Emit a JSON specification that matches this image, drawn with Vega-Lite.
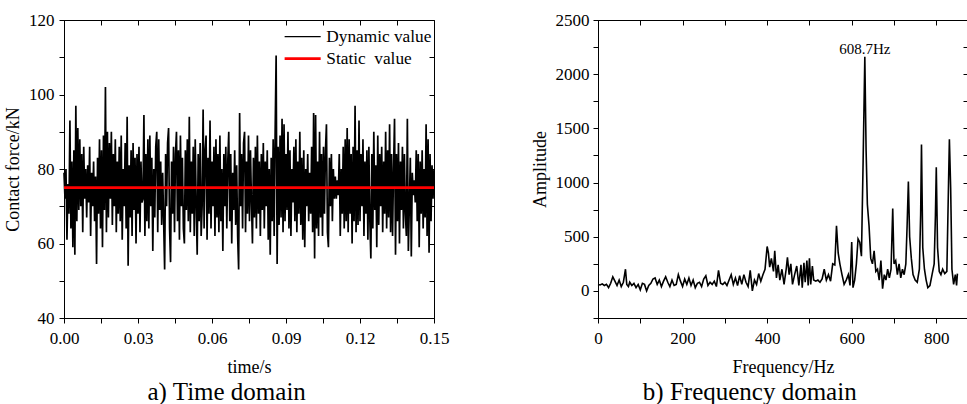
{
"$schema": "https://vega.github.io/schema/vega-lite/v6.json",
"padding": {"left": 4, "top": 10, "right": 0, "bottom": 0},
"spacing": 80,
"config": {
  "font": "Liberation Serif",
  "view": {"stroke": "black", "strokeWidth": 1},
  "axis": {"grid": false, "domainColor": "black", "tickColor": "black", "labelColor": "black", "titleColor": "black", "labelFontSize": 17, "titleFontSize": 18, "titleFontWeight": "normal", "tickSize": 5, "labelFont": "Liberation Serif", "titleFont": "Liberation Serif", "labelFlush": false, "labelOverlap": false},
  "title": {"fontSize": 25, "fontWeight": "normal", "color": "black", "font": "Liberation Serif", "frame": "bounds"}
},
"datasets": {
"time": [
{"time":0,"force":79},{"time":0.0004,"force":72},{"time":0.0008,"force":80},{"time":0.0012,"force":61},{"time":0.0016,"force":76},{"time":0.002,"force":68},{"time":0.0024,"force":93},{"time":0.0028,"force":64},{"time":0.0032,"force":82},{"time":0.0036,"force":59},{"time":0.004,"force":85},{"time":0.0044,"force":57},{"time":0.0048,"force":97},{"time":0.0052,"force":66},{"time":0.0056,"force":91},{"time":0.006,"force":69},{"time":0.0064,"force":88},{"time":0.0068,"force":70},{"time":0.0072,"force":84},{"time":0.0076,"force":63},{"time":0.008,"force":86},{"time":0.0084,"force":72},{"time":0.0088,"force":80},{"time":0.0092,"force":67},{"time":0.0096,"force":81},
{"time":0.01,"force":71},{"time":0.0104,"force":86},{"time":0.0108,"force":62},{"time":0.0112,"force":79},{"time":0.0116,"force":70},{"time":0.012,"force":82},{"time":0.0124,"force":66},{"time":0.0128,"force":78},{"time":0.0132,"force":54.5},{"time":0.0136,"force":83},{"time":0.014,"force":68},{"time":0.0144,"force":88},{"time":0.0148,"force":64},{"time":0.0152,"force":85},{"time":0.0156,"force":59},{"time":0.016,"force":89},{"time":0.0164,"force":69},{"time":0.0168,"force":102},{"time":0.0172,"force":63},{"time":0.0176,"force":90},{"time":0.018,"force":67},{"time":0.0184,"force":87},{"time":0.0188,"force":72},{"time":0.0192,"force":90},{"time":0.0196,"force":65},
{"time":0.02,"force":84},{"time":0.0204,"force":70},{"time":0.0208,"force":88},{"time":0.0212,"force":63},{"time":0.0216,"force":82},{"time":0.022,"force":68},{"time":0.0224,"force":86},{"time":0.0228,"force":66},{"time":0.0232,"force":89},{"time":0.0236,"force":61},{"time":0.024,"force":80},{"time":0.0244,"force":70},{"time":0.0248,"force":87},{"time":0.0252,"force":64},{"time":0.0256,"force":94},{"time":0.026,"force":54},{"time":0.0264,"force":81},{"time":0.0268,"force":67},{"time":0.0272,"force":85},{"time":0.0276,"force":62},{"time":0.028,"force":87},{"time":0.0284,"force":69},{"time":0.0288,"force":83},{"time":0.0292,"force":60},{"time":0.0296,"force":84},
{"time":0.03,"force":68},{"time":0.0304,"force":86},{"time":0.0308,"force":63},{"time":0.0312,"force":82},{"time":0.0316,"force":71},{"time":0.032,"force":72},{"time":0.0324,"force":94.5},{"time":0.0328,"force":62},{"time":0.0332,"force":84},{"time":0.0336,"force":66},{"time":0.034,"force":88},{"time":0.0344,"force":64},{"time":0.0348,"force":89},{"time":0.0352,"force":70},{"time":0.0356,"force":83},{"time":0.036,"force":58},{"time":0.0364,"force":80},{"time":0.0368,"force":67},{"time":0.0372,"force":86},{"time":0.0376,"force":90},{"time":0.038,"force":63},{"time":0.0384,"force":88},{"time":0.0388,"force":69},{"time":0.0392,"force":82},{"time":0.0396,"force":65},
{"time":0.04,"force":79},{"time":0.0404,"force":66},{"time":0.0408,"force":53},{"time":0.0412,"force":84},{"time":0.0416,"force":70},{"time":0.042,"force":87},{"time":0.0424,"force":91},{"time":0.0428,"force":64},{"time":0.0432,"force":55},{"time":0.0436,"force":82},{"time":0.044,"force":68},{"time":0.0444,"force":86},{"time":0.0448,"force":63},{"time":0.0452,"force":84},{"time":0.0456,"force":90},{"time":0.046,"force":66},{"time":0.0464,"force":85},{"time":0.0468,"force":61},{"time":0.0472,"force":89},{"time":0.0476,"force":70},{"time":0.048,"force":83},{"time":0.0484,"force":64},{"time":0.0488,"force":60},{"time":0.0492,"force":85},{"time":0.0496,"force":69},
{"time":0.05,"force":88},{"time":0.0504,"force":66},{"time":0.0508,"force":94},{"time":0.0512,"force":63},{"time":0.0516,"force":82},{"time":0.052,"force":68},{"time":0.0524,"force":86},{"time":0.0528,"force":62},{"time":0.0532,"force":88},{"time":0.0536,"force":70},{"time":0.054,"force":57},{"time":0.0544,"force":84},{"time":0.0548,"force":66},{"time":0.0552,"force":87},{"time":0.0556,"force":62},{"time":0.056,"force":70},{"time":0.0564,"force":96},{"time":0.0568,"force":64},{"time":0.0572,"force":85},{"time":0.0576,"force":89},{"time":0.058,"force":61},{"time":0.0584,"force":83},{"time":0.0588,"force":68},{"time":0.0592,"force":93},{"time":0.0596,"force":64},
{"time":0.06,"force":82},{"time":0.0604,"force":70},{"time":0.0608,"force":86},{"time":0.0612,"force":62},{"time":0.0616,"force":88},{"time":0.062,"force":67},{"time":0.0624,"force":84},{"time":0.0628,"force":63},{"time":0.0632,"force":89},{"time":0.0636,"force":66},{"time":0.064,"force":80},{"time":0.0644,"force":58},{"time":0.0648,"force":84},{"time":0.0652,"force":70},{"time":0.0656,"force":86},{"time":0.066,"force":64},{"time":0.0664,"force":82},{"time":0.0668,"force":90},{"time":0.0672,"force":66},{"time":0.0676,"force":84},{"time":0.068,"force":60},{"time":0.0684,"force":79},{"time":0.0688,"force":69},{"time":0.0692,"force":85},{"time":0.0696,"force":65},
{"time":0.07,"force":81},{"time":0.0704,"force":62},{"time":0.0708,"force":53},{"time":0.0712,"force":95},{"time":0.0716,"force":70},{"time":0.072,"force":84},{"time":0.0724,"force":64},{"time":0.0728,"force":87},{"time":0.0732,"force":90},{"time":0.0736,"force":63},{"time":0.074,"force":82},{"time":0.0744,"force":68},{"time":0.0748,"force":89},{"time":0.0752,"force":66},{"time":0.0756,"force":85},{"time":0.076,"force":71},{"time":0.0764,"force":60},{"time":0.0768,"force":83},{"time":0.0772,"force":67},{"time":0.0776,"force":86},{"time":0.078,"force":64},{"time":0.0784,"force":89},{"time":0.0788,"force":68},{"time":0.0792,"force":82},{"time":0.0796,"force":62},
{"time":0.08,"force":84},{"time":0.0804,"force":69},{"time":0.0808,"force":87},{"time":0.0812,"force":64},{"time":0.0816,"force":82},{"time":0.082,"force":70},{"time":0.0824,"force":85},{"time":0.0828,"force":61},{"time":0.0832,"force":80},{"time":0.0836,"force":57},{"time":0.084,"force":83},{"time":0.0844,"force":66},{"time":0.0848,"force":88},{"time":0.0852,"force":62},{"time":0.0856,"force":90},{"time":0.086,"force":110.5},{"time":0.0864,"force":54.5},{"time":0.0868,"force":86},{"time":0.0872,"force":65},{"time":0.0876,"force":89},{"time":0.088,"force":67},{"time":0.0884,"force":93.5},{"time":0.0888,"force":63},{"time":0.0892,"force":92},{"time":0.0896,"force":66},
{"time":0.09,"force":84},{"time":0.0904,"force":69},{"time":0.0908,"force":90},{"time":0.0912,"force":64},{"time":0.0916,"force":85},{"time":0.092,"force":62},{"time":0.0924,"force":80},{"time":0.0928,"force":71},{"time":0.0932,"force":86},{"time":0.0936,"force":66},{"time":0.094,"force":88},{"time":0.0944,"force":63},{"time":0.0948,"force":82},{"time":0.0952,"force":68},{"time":0.0956,"force":90},{"time":0.096,"force":65},{"time":0.0964,"force":83},{"time":0.0968,"force":61},{"time":0.0972,"force":85},{"time":0.0976,"force":59},{"time":0.098,"force":80},{"time":0.0984,"force":70},{"time":0.0988,"force":84},{"time":0.0992,"force":66},{"time":0.0996,"force":79},
{"time":0.1,"force":68},{"time":0.1004,"force":86},{"time":0.1008,"force":63},{"time":0.1012,"force":95},{"time":0.1016,"force":56},{"time":0.102,"force":94.5},{"time":0.1024,"force":64},{"time":0.1028,"force":82},{"time":0.1032,"force":62},{"time":0.1036,"force":90},{"time":0.104,"force":67},{"time":0.1044,"force":84},{"time":0.1048,"force":62},{"time":0.1052,"force":86},{"time":0.1056,"force":68},{"time":0.106,"force":85},{"time":0.1064,"force":92},{"time":0.1068,"force":63},{"time":0.1072,"force":59},{"time":0.1076,"force":83},{"time":0.108,"force":70},{"time":0.1084,"force":84},{"time":0.1088,"force":66},{"time":0.1092,"force":80},{"time":0.1096,"force":72},
{"time":0.11,"force":78},{"time":0.1104,"force":72},{"time":0.1108,"force":77},{"time":0.1112,"force":73},{"time":0.1116,"force":84},{"time":0.112,"force":62},{"time":0.1124,"force":80},{"time":0.1128,"force":68},{"time":0.1132,"force":86},{"time":0.1136,"force":64},{"time":0.114,"force":88},{"time":0.1144,"force":66},{"time":0.1148,"force":91},{"time":0.1152,"force":63},{"time":0.1156,"force":88},{"time":0.116,"force":68},{"time":0.1164,"force":84},{"time":0.1168,"force":60},{"time":0.1172,"force":86},{"time":0.1176,"force":66},{"time":0.118,"force":97},{"time":0.1184,"force":63},{"time":0.1188,"force":85},{"time":0.1192,"force":65},{"time":0.1196,"force":93},
{"time":0.12,"force":66},{"time":0.1204,"force":84},{"time":0.1208,"force":70},{"time":0.1212,"force":88},{"time":0.1216,"force":62},{"time":0.122,"force":82},{"time":0.1224,"force":68},{"time":0.1228,"force":85},{"time":0.1232,"force":61},{"time":0.1236,"force":86},{"time":0.124,"force":66},{"time":0.1244,"force":56},{"time":0.1248,"force":84},{"time":0.1252,"force":64},{"time":0.1256,"force":90},{"time":0.126,"force":69},{"time":0.1264,"force":81},{"time":0.1268,"force":59},{"time":0.1272,"force":89},{"time":0.1276,"force":65},{"time":0.128,"force":84},{"time":0.1284,"force":70},{"time":0.1288,"force":86},{"time":0.1292,"force":63},{"time":0.1296,"force":82},
{"time":0.13,"force":68},{"time":0.1304,"force":90},{"time":0.1308,"force":64},{"time":0.1312,"force":85},{"time":0.1316,"force":67},{"time":0.132,"force":92},{"time":0.1324,"force":63},{"time":0.1328,"force":84},{"time":0.1332,"force":62},{"time":0.1336,"force":80},{"time":0.134,"force":93.5},{"time":0.1344,"force":57},{"time":0.1348,"force":84},{"time":0.1352,"force":66},{"time":0.1356,"force":87},{"time":0.136,"force":60},{"time":0.1364,"force":82},{"time":0.1368,"force":69},{"time":0.1372,"force":86},{"time":0.1376,"force":64},{"time":0.138,"force":84},{"time":0.1384,"force":68},{"time":0.1388,"force":62},{"time":0.1392,"force":93.5},{"time":0.1396,"force":58},
{"time":0.14,"force":70},{"time":0.1404,"force":83},{"time":0.1408,"force":56.5},{"time":0.1412,"force":79},{"time":0.1416,"force":73},{"time":0.142,"force":77},{"time":0.1424,"force":71},{"time":0.1428,"force":85},{"time":0.1432,"force":66},{"time":0.1436,"force":84},{"time":0.144,"force":59},{"time":0.1444,"force":82},{"time":0.1448,"force":68},{"time":0.1452,"force":85},{"time":0.1456,"force":64},{"time":0.146,"force":80},{"time":0.1464,"force":67},{"time":0.1468,"force":92},{"time":0.1472,"force":62},{"time":0.1476,"force":88},{"time":0.148,"force":57.5},{"time":0.1484,"force":84},{"time":0.1488,"force":66},{"time":0.1492,"force":81},{"time":0.1496,"force":72},{"time":0.15,"force":80}
],
"freq": [
{"f":0,"a":60},{"f":5,"a":55},{"f":10,"a":65},{"f":15,"a":50},{"f":20,"a":60},{"f":25,"a":30},{"f":30,"a":70},{"f":35,"a":130},{"f":40,"a":90},{"f":45,"a":50},{"f":50,"a":100},{"f":55,"a":40},{"f":60,"a":80},{"f":65,"a":200},{"f":68,"a":60},{"f":72,"a":40},{"f":75,"a":80},{"f":80,"a":50},{"f":85,"a":70},{"f":90,"a":30},{"f":95,"a":60},{"f":100,"a":10},{"f":105,"a":70},{"f":110,"a":60},{"f":115,"a":0},{"f":120,"a":50},{"f":125,"a":70},{"f":130,"a":110},{"f":135,"a":120},{"f":140,"a":60},{"f":145,"a":100},{"f":150,"a":40},{"f":155,"a":90},{"f":160,"a":130},{"f":165,"a":80},{"f":170,"a":40},{"f":175,"a":100},{"f":180,"a":50},{"f":185,"a":60},{"f":190,"a":150},{"f":195,"a":90},{"f":200,"a":40},{"f":205,"a":110},{"f":210,"a":60},{"f":215,"a":120},{"f":220,"a":50},{"f":225,"a":100},{"f":230,"a":30},{"f":235,"a":70},{"f":240,"a":80},{"f":245,"a":40},{"f":250,"a":110},{"f":255,"a":140},{"f":260,"a":50},{"f":265,"a":80},{"f":270,"a":60},{"f":275,"a":90},{"f":280,"a":40},{"f":285,"a":190},{"f":290,"a":70},{"f":295,"a":60},{"f":300,"a":80},{"f":305,"a":50},{"f":310,"a":100},{"f":315,"a":150},{"f":320,"a":60},{"f":325,"a":120},{"f":330,"a":50},{"f":335,"a":140},{"f":340,"a":60},{"f":345,"a":150},{"f":350,"a":80},{"f":355,"a":40},{"f":360,"a":190},{"f":365,"a":0},{"f":370,"a":100},{"f":375,"a":60},{"f":380,"a":160},{"f":385,"a":90},{"f":390,"a":150},{"f":395,"a":200},{"f":400,"a":410},{"f":403,"a":350},{"f":406,"a":220},{"f":410,"a":300},{"f":415,"a":180},{"f":418,"a":370},{"f":422,"a":120},{"f":426,"a":240},{"f":430,"a":100},{"f":435,"a":200},{"f":440,"a":60},{"f":445,"a":200},{"f":448,"a":310},{"f":452,"a":150},{"f":456,"a":250},{"f":460,"a":60},{"f":465,"a":150},{"f":470,"a":230},{"f":475,"a":50},{"f":480,"a":240},{"f":483,"a":30},{"f":487,"a":260},{"f":490,"a":80},{"f":494,"a":280},{"f":497,"a":50},{"f":500,"a":300},{"f":503,"a":60},{"f":507,"a":230},{"f":510,"a":100},{"f":515,"a":90},{"f":520,"a":100},{"f":525,"a":80},{"f":530,"a":110},{"f":535,"a":200},{"f":540,"a":100},{"f":545,"a":150},{"f":550,"a":90},{"f":555,"a":250},{"f":560,"a":240},{"f":564,"a":600},{"f":568,"a":350},{"f":572,"a":250},{"f":577,"a":150},{"f":582,"a":60},{"f":587,"a":100},{"f":592,"a":150},{"f":596,"a":50},{"f":600,"a":450},{"f":603,"a":30},{"f":607,"a":100},{"f":611,"a":250},{"f":615,"a":480},{"f":619,"a":450},{"f":623,"a":320},{"f":627,"a":1200},{"f":631,"a":2160},{"f":634,"a":1300},{"f":637,"a":800},{"f":641,"a":600},{"f":645,"a":300},{"f":649,"a":250},{"f":653,"a":370},{"f":657,"a":180},{"f":661,"a":200},{"f":665,"a":100},{"f":669,"a":280},{"f":673,"a":20},{"f":677,"a":150},{"f":681,"a":100},{"f":685,"a":200},{"f":689,"a":120},{"f":693,"a":200},{"f":697,"a":760},{"f":700,"a":250},{"f":704,"a":280},{"f":708,"a":150},{"f":712,"a":250},{"f":716,"a":120},{"f":720,"a":200},{"f":724,"a":150},{"f":728,"a":250},{"f":731,"a":600},{"f":734,"a":1010},{"f":737,"a":500},{"f":741,"a":300},{"f":745,"a":150},{"f":750,"a":100},{"f":755,"a":80},{"f":760,"a":200},{"f":763,"a":700},{"f":765,"a":1350},{"f":768,"a":400},{"f":772,"a":200},{"f":776,"a":100},{"f":780,"a":30},{"f":785,"a":50},{"f":790,"a":150},{"f":795,"a":250},{"f":798,"a":700},{"f":800,"a":1140},{"f":803,"a":400},{"f":807,"a":180},{"f":811,"a":150},{"f":815,"a":200},{"f":820,"a":160},{"f":825,"a":180},{"f":829,"a":1000},{"f":831,"a":1400},{"f":834,"a":950},{"f":837,"a":200},{"f":841,"a":60},{"f":845,"a":150},{"f":848,"a":50},{"f":850,"a":160}
]
},
"hconcat": [
{
  "width": 370, "height": 298,
  "title": {"text": "a) Time domain", "orient": "bottom", "offset": 4},
  "resolve": {"axis": {"x": "independent", "y": "independent"}},
  "layer": [
    {
      "data": {"name": "time"},
      "mark": {"type": "line", "strokeWidth": 1.7},
      "encoding": {
        "x": {"field": "time", "type": "quantitative", "scale": {"domain": [0, 0.15], "nice": false, "zero": false},
              "axis": {"title": "time/s", "values": [0,0.015,0.03,0.045,0.06,0.075,0.09,0.105,0.12,0.135,0.15], "labelExpr": "round(datum.value*1000) % 30 == 0 ? format(datum.value, '.2f') : ''", "labelPadding": 7, "titlePadding": 12}},
        "y": {"field": "force", "type": "quantitative", "scale": {"domain": [40, 120], "nice": false, "zero": false},
              "axis": {"title": "Contact force/kN", "values": [40,50,60,70,80,90,100,110,120], "labelExpr": "datum.value % 20 == 0 ? datum.label : ''", "labelPadding": 5, "titlePadding": 6}},
        "color": {"datum": "Dynamic value", "scale": {"domain": ["Dynamic value", "Static\u00a0 value"], "range": ["black", "red"]},
                  "legend": {"title": null, "orient": "none", "legendX": 230, "legendY": 8, "symbolType": "stroke", "symbolSize": 1300, "labelFontSize": 17.3, "labelFont": "Liberation Serif", "labelColor": "black", "labelOffset": 15, "rowPadding": 4, "padding": 0,
                             "encode": {"symbols": {"update": {"strokeWidth": {"signal": "datum.value === 'Dynamic value' ? 1.3 : 2.6"}}}}}}
      }
    },
    {
      "data": {"values": [{"t0": 0, "t1": 0.15, "v": 75}]},
      "mark": {"type": "rule", "strokeWidth": 2.6},
      "encoding": {
        "x": {"field": "t0", "type": "quantitative", "scale": {"domain": [0, 0.15], "nice": false, "zero": false},
              "axis": {"orient": "top", "labels": false, "title": null, "domain": false, "tickSize": -5, "values": [0,0.015,0.03,0.045,0.06,0.075,0.09,0.105,0.12,0.135,0.15]}},
        "x2": {"field": "t1"},
        "y": {"field": "v", "type": "quantitative", "scale": {"domain": [40, 120], "nice": false, "zero": false},
              "axis": {"orient": "right", "labels": false, "title": null, "domain": false, "tickSize": -5, "values": [40,50,60,70,80,90,100,110,120]}},
        "color": {"datum": "Static\u00a0 value"}
      }
    }
  ]
},
{
  "width": 370, "height": 298,
  "title": {"text": "b) Frequency domain", "orient": "bottom", "offset": 4},
  "resolve": {"axis": {"x": "independent", "y": "independent"}},
  "layer": [
    {
      "data": {"name": "freq"},
      "mark": {"type": "line", "color": "black", "strokeWidth": 1.6},
      "encoding": {
        "x": {"field": "f", "type": "quantitative", "scale": {"domain": [0, 875], "nice": false, "zero": false},
              "axis": {"title": "Frequency/Hz", "values": [0,100,200,300,400,500,600,700,800], "labelExpr": "datum.value % 200 == 0 ? datum.label : ''", "labelPadding": 7, "titlePadding": 12}},
        "y": {"field": "a", "type": "quantitative", "scale": {"domain": [-250, 2500], "nice": false, "zero": false},
              "axis": {"title": "Amplitude", "format": "d", "values": [-250,0,250,500,750,1000,1250,1500,1750,2000,2250,2500], "labelExpr": "datum.value % 500 == 0 ? datum.label : ''", "labelPadding": 4, "titlePadding": 6}}
      }
    },
    {
      "data": {"values": [{"f": 631, "a": 2230, "label": "608.7Hz"}]},
      "mark": {"type": "text", "fontSize": 15, "baseline": "middle", "align": "center", "color": "black", "font": "Liberation Serif"},
      "encoding": {
        "x": {"field": "f", "type": "quantitative", "scale": {"domain": [0, 875], "nice": false, "zero": false},
              "axis": {"orient": "top", "labels": false, "title": null, "domain": false, "tickSize": -5, "values": [0,100,200,300,400,500,600,700,800]}},
        "y": {"field": "a", "type": "quantitative", "scale": {"domain": [-250, 2500], "nice": false, "zero": false},
              "axis": {"orient": "right", "labels": false, "title": null, "domain": false, "tickSize": -5, "values": [-250,0,250,500,750,1000,1250,1500,1750,2000,2250,2500]}},
        "text": {"field": "label"}
      }
    }
  ]
}
]
}
